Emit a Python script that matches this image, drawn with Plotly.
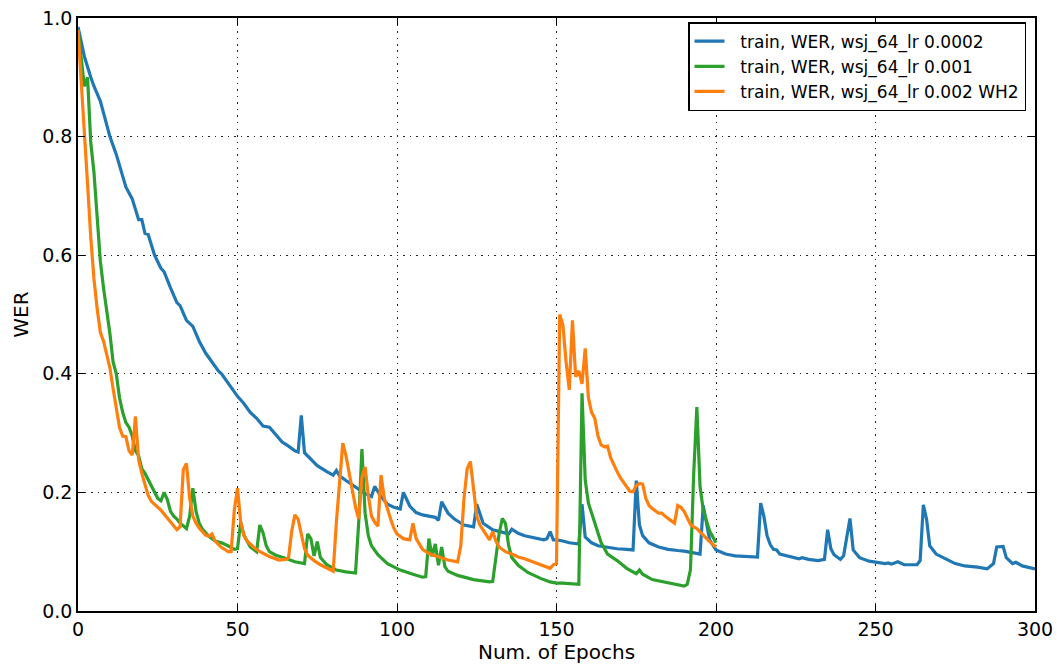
import plotly.graph_objects as go

# ---- data: (epoch, WER) ----
blue_x = [0, 2, 4, 5, 7, 8, 10, 12, 13, 15, 17, 19, 20, 21, 22, 24, 26, 27, 29, 31, 32, 34, 36, 38, 40,
          42, 44, 45, 47, 49, 50, 52, 54, 56, 57, 58, 60, 62, 64, 66, 68, 69, 70, 71, 73, 75, 78, 80, 81,
          82, 84, 86, 88, 90, 92, 93, 95, 97, 99, 100, 101, 102, 104, 106, 108, 110, 112, 113, 114, 116,
          118, 121, 124, 125, 127, 130, 133, 135, 136, 138, 140, 143, 146, 147, 148, 149, 150, 152, 154,
          157, 158, 159, 161, 163, 166, 169, 172, 174, 175, 176, 177, 179, 182, 185, 188, 190, 193, 195,
          196, 197, 198, 200, 203, 206, 209, 212, 213, 214, 215, 216, 217, 218, 219, 220, 223, 226, 227,
          229, 232, 234, 235, 236, 237, 239, 240, 242, 243, 245, 248, 250, 253, 254, 255, 257, 259, 263,
          264, 265, 266, 267, 269, 272, 275, 278, 282, 285, 287, 288, 290, 291, 293, 294, 296, 300]
blue_y = [0.985, 0.935, 0.90, 0.885, 0.86, 0.84, 0.80, 0.77, 0.75, 0.715, 0.695, 0.66, 0.66, 0.637,
          0.635, 0.600, 0.578, 0.572, 0.545, 0.52, 0.515, 0.49, 0.48, 0.455, 0.435, 0.42, 0.405, 0.40,
          0.385, 0.37, 0.362, 0.35, 0.335, 0.325, 0.318, 0.312, 0.31, 0.297, 0.285, 0.278, 0.27, 0.268,
          0.33, 0.267, 0.255, 0.245, 0.235, 0.229, 0.237, 0.228, 0.22, 0.213, 0.205, 0.198, 0.193, 0.21,
          0.193, 0.18, 0.175, 0.173, 0.172, 0.20, 0.177, 0.166, 0.162, 0.16, 0.158, 0.153, 0.184, 0.165,
          0.155, 0.145, 0.142, 0.18, 0.148, 0.137, 0.133, 0.13, 0.138, 0.131, 0.127, 0.123, 0.12, 0.122,
          0.134, 0.12, 0.12, 0.118, 0.115, 0.113, 0.18, 0.125, 0.115, 0.11, 0.107, 0.105, 0.104, 0.103,
          0.22, 0.145, 0.127, 0.115, 0.108, 0.104, 0.102, 0.101, 0.098, 0.096, 0.178, 0.15, 0.12, 0.103,
          0.096, 0.093, 0.092, 0.09, 0.091, 0.182, 0.16, 0.127, 0.112, 0.104, 0.103, 0.096, 0.092, 0.088,
          0.09, 0.087, 0.085, 0.087, 0.137, 0.105, 0.095, 0.087, 0.093, 0.156, 0.103, 0.09, 0.084, 0.082,
          0.08, 0.081, 0.079, 0.083, 0.078, 0.078, 0.085, 0.179, 0.155, 0.11, 0.096, 0.088, 0.08, 0.076,
          0.074, 0.071, 0.08, 0.108, 0.109, 0.09, 0.08, 0.082, 0.076, 0.071]

green_x = [0, 1, 2, 3, 4, 5, 6, 7, 8, 9, 10, 11, 12, 13, 14, 15, 16, 17, 18, 19, 20, 21, 22, 23, 24,
           25, 26, 27, 28, 29, 30, 31, 32, 33, 34, 35, 36, 37, 38, 39, 40, 41, 43, 45, 47, 49, 50, 51,
           52, 53, 54, 56, 57, 58, 59, 60, 62, 65, 68, 71, 72, 73, 74, 75, 76, 78, 81, 84, 87, 88, 89,
           90, 91, 92, 94, 97, 101, 105, 108, 109, 110, 111, 112, 113, 114, 115, 116, 119, 124, 129,
           130, 132, 133, 134, 135, 136, 138, 141, 145, 148, 150, 152, 155, 157, 158, 159, 160, 162,
           164, 166, 169, 172, 175, 176, 177, 180, 183, 186, 190, 191, 192, 193, 194, 195, 196, 198, 200]
green_y = [0.98, 0.93, 0.885, 0.90, 0.79, 0.74, 0.66, 0.59, 0.545, 0.508, 0.468, 0.42, 0.40, 0.36,
           0.335, 0.318, 0.31, 0.295, 0.27, 0.262, 0.24, 0.232, 0.221, 0.21, 0.20, 0.19, 0.186, 0.20,
           0.188, 0.168, 0.16, 0.155, 0.148, 0.143, 0.139, 0.16, 0.207, 0.168, 0.148, 0.138, 0.132,
           0.126, 0.118, 0.115, 0.11, 0.104, 0.105, 0.15, 0.128, 0.118, 0.108, 0.10, 0.145, 0.132, 0.11,
           0.10, 0.094, 0.089, 0.083, 0.08, 0.13, 0.122, 0.093, 0.117, 0.09, 0.078, 0.069, 0.066, 0.064,
           0.15, 0.273, 0.165, 0.127, 0.11, 0.095, 0.08, 0.069, 0.062, 0.057, 0.058, 0.122, 0.092, 0.113,
           0.077, 0.108, 0.075, 0.067, 0.06, 0.053, 0.049, 0.05, 0.13, 0.156, 0.148, 0.11, 0.09, 0.077,
           0.065, 0.055, 0.049, 0.047, 0.047, 0.046, 0.045, 0.367, 0.221, 0.182, 0.148, 0.115, 0.096,
           0.085, 0.072, 0.063, 0.069, 0.062, 0.053, 0.05, 0.047, 0.042, 0.045, 0.07, 0.23, 0.344, 0.21,
           0.17, 0.135, 0.115]

orange_x = [0, 1, 2, 3, 4, 5, 6, 7, 8, 9, 10, 11, 12, 13, 14, 15, 16, 17, 18, 19, 20, 21, 22, 23, 24,
            25, 26, 27, 28, 29, 30, 31, 32, 33, 34, 35, 36, 37, 38, 39, 40, 41, 42, 43, 44, 45, 46, 47,
            48, 49, 50, 51, 52, 53, 55, 57, 60, 63, 65, 66, 67, 68, 69, 70, 71, 72, 74, 76, 78, 80, 81,
            82, 83, 84, 85, 86, 87, 88, 89, 90, 91, 92, 93, 94, 95, 96, 97, 98, 99, 100, 102, 104, 105,
            106, 108, 110, 112, 114, 116, 119, 120, 121, 122, 123, 124, 125, 126, 128, 129, 130, 131,
            132, 134, 136, 138, 140, 142, 144, 146, 148, 149, 150, 151, 152, 153, 154, 155, 156, 157,
            158, 159, 160, 161, 162, 163, 164, 165, 166, 167, 168, 169, 170, 171, 172, 173, 174, 175,
            176, 177, 178, 179, 180, 182, 183, 184, 186, 187, 188, 189, 190, 191, 192, 193, 194, 196,
            198, 200]
orange_y = [0.98, 0.90, 0.81, 0.72, 0.63, 0.56, 0.51, 0.47, 0.455, 0.435, 0.41, 0.375, 0.342, 0.31,
            0.295, 0.294, 0.27, 0.263, 0.328, 0.255, 0.232, 0.212, 0.195, 0.185, 0.179, 0.175, 0.17,
            0.163, 0.157, 0.15, 0.144, 0.137, 0.142, 0.238, 0.249, 0.19, 0.16, 0.148, 0.14, 0.133,
            0.128, 0.126, 0.13, 0.118, 0.112, 0.107, 0.104, 0.10, 0.10, 0.17, 0.207, 0.15, 0.128, 0.118,
            0.108, 0.10, 0.092, 0.086, 0.087, 0.09, 0.135, 0.162, 0.155, 0.13, 0.105, 0.094, 0.085,
            0.078, 0.072, 0.067, 0.15, 0.225, 0.283, 0.262, 0.235, 0.207, 0.175, 0.155, 0.225, 0.243,
            0.195, 0.16, 0.15, 0.143, 0.229, 0.19, 0.17, 0.155, 0.14, 0.13, 0.122, 0.12, 0.148, 0.122,
            0.104, 0.097, 0.093, 0.089, 0.086, 0.083, 0.11, 0.19, 0.24, 0.252, 0.205, 0.16, 0.145, 0.128,
            0.12, 0.134, 0.118, 0.108, 0.10, 0.096, 0.091, 0.088, 0.084, 0.079, 0.076, 0.072, 0.078,
            0.08, 0.50, 0.482, 0.42, 0.373, 0.49, 0.395, 0.405, 0.383, 0.443, 0.36, 0.335, 0.325, 0.295,
            0.28, 0.277, 0.278, 0.258, 0.245, 0.235, 0.225, 0.218, 0.21, 0.202, 0.201, 0.212, 0.215,
            0.214, 0.19, 0.178, 0.173, 0.165, 0.165, 0.16, 0.152, 0.148, 0.178, 0.175, 0.168, 0.158,
            0.146, 0.142, 0.139, 0.128, 0.117, 0.108]

names = ["train, WER, wsj_64_lr 0.0002", "train, WER, wsj_64_lr 0.001", "train, WER, wsj_64_lr 0.002 WH2"]
colors = ["#1f77b4", "#2ca02c", "#ff7f0e"]
x_ticks = [0, 50, 100, 150, 200, 250, 300]
y_ticks = [0.0, 0.2, 0.4, 0.6, 0.8, 1.0]

FONT = "DejaVu Sans"
PAD = "\u00a0\u00a0"

fig = go.Figure()
for xs, ys, nm, c in zip([blue_x, green_x, orange_x], [blue_y, green_y, orange_y], names, colors):
    fig.add_trace(go.Scatter(x=xs, y=ys, mode="lines", name=PAD + nm,
                             line=dict(color=c, width=3.2)))

axis_common = dict(
    showline=True, linecolor="black", linewidth=1.5, mirror="ticks",
    ticks="inside", ticklen=7, tickwidth=1, tickcolor="black",
    showgrid=True, gridcolor="#222222", gridwidth=1, griddash="1.5px,5px",
    zeroline=False, automargin=False,
    tickfont=dict(family=FONT, size=19, color="black"),
)

fig.update_xaxes(range=[0, 300], tickvals=x_ticks, ticktext=[str(v) for v in x_ticks],
                 title=dict(text="Num. of Epochs", font=dict(family=FONT, size=20, color="black"), standoff=6),
                 **axis_common)
fig.update_yaxes(range=[0, 1], tickvals=y_ticks, ticktext=[f"{v:.1f}" for v in y_ticks],
                 title=dict(text="WER", font=dict(family=FONT, size=20, color="black"), standoff=8),
                 **axis_common)

fig.update_layout(
    width=1057, height=666,
    margin=dict(l=78, r=22, t=18, b=55, autoexpand=False),
    paper_bgcolor="white", plot_bgcolor="white",
    font=dict(family=FONT, size=17, color="black"),
    showlegend=True,
    legend=dict(x=0.9906, y=0.993, xanchor="right", yanchor="top",
                bgcolor="white", bordercolor="black", borderwidth=1.5,
                font=dict(family=FONT, size=17, color="black")),
)

fig.write_html("out.html")
